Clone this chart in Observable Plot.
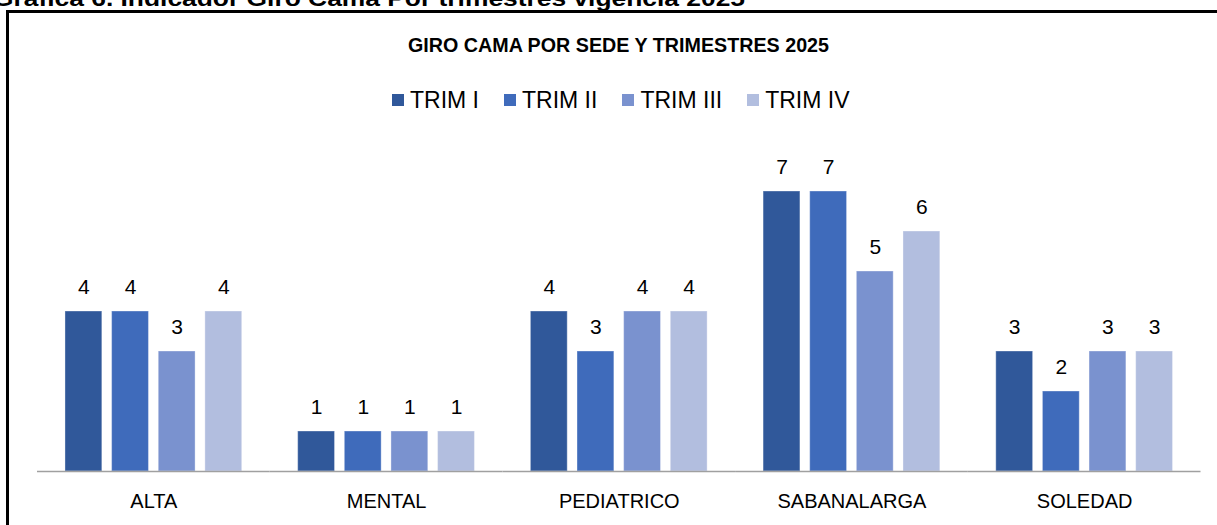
<!DOCTYPE html>
<html><head><meta charset="utf-8">
<script src="https://cdn.jsdelivr.net/npm/d3@7"></script>
<script src="https://cdn.jsdelivr.net/npm/@observablehq/plot@0.6"></script>
<style>
body{margin:0;background:#fff;}
#page{position:relative;width:1217px;height:525px;overflow:hidden;font-family:"Liberation Sans",Arial,sans-serif;color:#000;}
#hdr{position:absolute;left:-7px;top:-12px;font-weight:bold;font-size:22px;line-height:22px;white-space:nowrap;font-family:"Liberation Sans Narrow","Liberation Sans",Arial,sans-serif;transform-origin:left top;}
#box{position:absolute;left:6px;top:10px;width:1300px;height:600px;border-left:3px solid #000;border-top:3px solid #000;}
#title{position:absolute;top:33px;left:408px;font-weight:bold;font-size:20px;line-height:24px;white-space:nowrap;font-family:"Liberation Sans Narrow","Liberation Sans",Arial,sans-serif;transform-origin:left top;}
#legend{position:absolute;top:87px;left:0;width:1217px;height:26px;font-size:23px;line-height:26px;white-space:nowrap;}
#legend .sw{position:absolute;top:7px;width:12px;height:12px;}
#legend .tx{position:absolute;top:0;}
#chart{position:absolute;left:0;top:130px;}
</style></head>
<body><div id="page">
<div id="hdr"></div>
<div id="box"></div>
<div id="title"></div>
<div id="legend"></div>
<div id="chart"></div>
</div>
<script>
const headerText = "Gráfica 6. Indicador Giro Cama Por trimestres  vigencia 2025";
const titleText = "GIRO CAMA POR SEDE Y TRIMESTRES 2025";
const sedes = ["ALTA", "MENTAL", "PEDIATRICO", "SABANALARGA", "SOLEDAD"];
const trims = ["TRIM I", "TRIM II", "TRIM III", "TRIM IV"];
const trim1 = [4, 1, 4, 7, 3];
const trim2 = [4, 1, 3, 7, 2];
const trim3 = [3, 1, 4, 5, 3];
const trim4 = [4, 1, 4, 6, 3];
const colors = ["#30589a", "#3f6bbb", "#7a92cf", "#b2bedf"];

const series = [trim1, trim2, trim3, trim4];
const data = sedes.flatMap((s, i) => series.map((arr, j) => ({sede: s, trim: trims[j], value: arr[i]})));

function fit(el, w) {
  const cur = el.getBoundingClientRect().width;
  if (cur > 0) el.style.transform = `scaleX(${w / cur})`;
}

const hdr = document.getElementById("hdr");
hdr.textContent = headerText;
fit(hdr, 752);
const title = document.getElementById("title");
title.textContent = titleText;
fit(title, 421);

// legend: swatch + label, laid out left to right
const legend = document.getElementById("legend");
let lx = 392;
trims.forEach((t, j) => {
  const sw = document.createElement("div");
  sw.className = "sw";
  sw.style.background = colors[j];
  sw.style.left = lx + "px";
  legend.appendChild(sw);
  const tx = document.createElement("span");
  tx.className = "tx";
  tx.textContent = t;
  tx.style.left = (lx + 18) + "px";
  legend.appendChild(tx);
  lx = lx + 18 + tx.getBoundingClientRect().width + 25;
});

const chart = Plot.plot({
  width: 1217,
  height: 395,
  marginLeft: 37,
  marginRight: 16.5,
  marginTop: 21,
  marginBottom: 54,
  style: {fontFamily: "'Liberation Sans', Arial, sans-serif", fontSize: "20px", color: "#000", background: "transparent"},
  fx: {domain: sedes, padding: 0, round: false, label: null, axis: "bottom", tickSize: 0, tickPadding: 22},
  x: {domain: trims, axis: null, round: false, paddingInner: 0.21, paddingOuter: 0.6},
  y: {domain: [0, 8], axis: null},
  color: {domain: trims, range: colors},
  marks: [
    Plot.barY(data, {fx: "sede", x: "trim", y: "value", fill: "trim", stroke: "#ffffff", strokeOpacity: 0.35, strokeWidth: 1}),
    Plot.ruleY([0], {stroke: "#a0a0a0", strokeWidth: 1.5}),
    Plot.text(data, {fx: "sede", x: "trim", y: "value", text: d => String(d.value), dy: -24, fontSize: 21, fill: "#000"})
  ]
});
document.getElementById("chart").appendChild(chart);
</script>
</body></html>
